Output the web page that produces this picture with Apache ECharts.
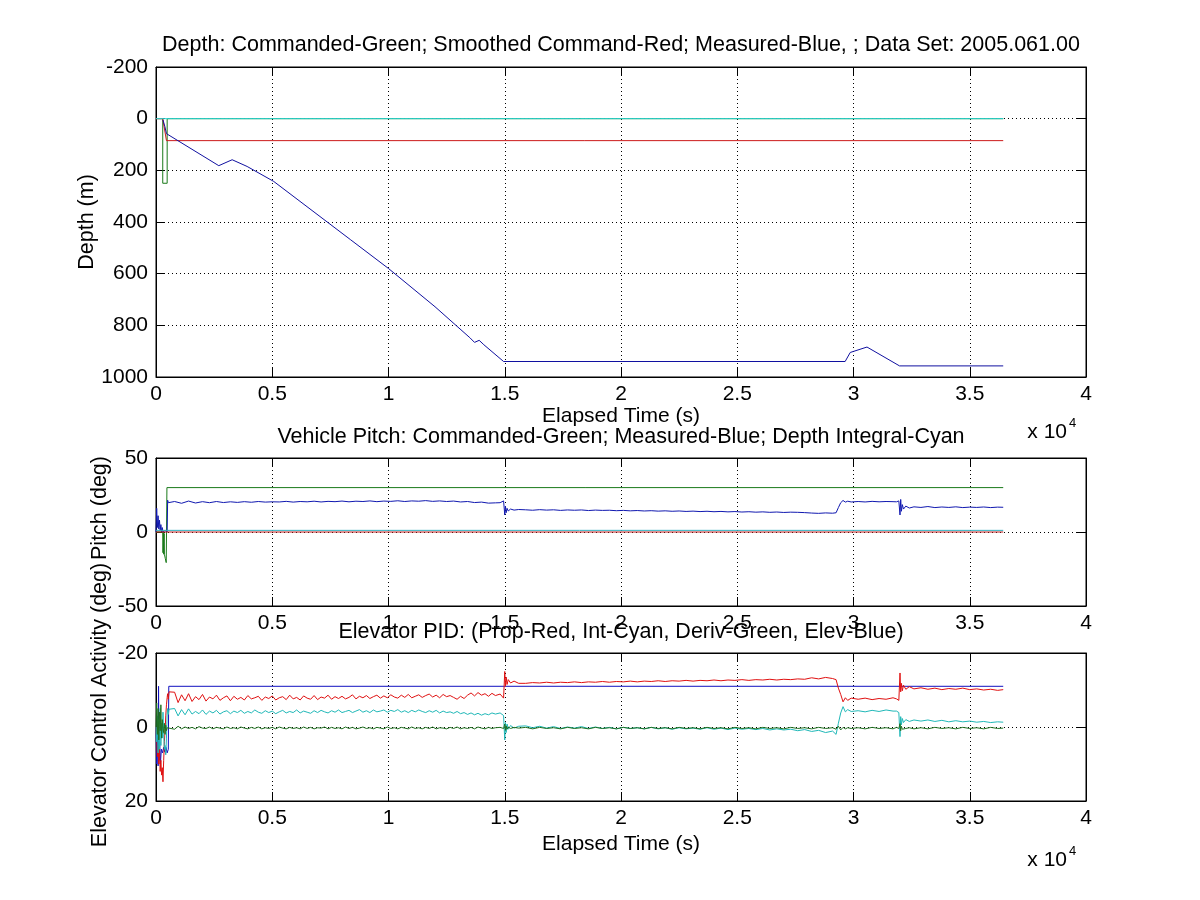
<!DOCTYPE html>
<html lang="en">
<head>
<meta charset="UTF-8" />
<meta name="viewport" content="width=device-width, initial-scale=1.0" />
<title>Depth / Pitch / Elevator PID - 2005.061.00</title>
<style>
  html, body { margin: 0; padding: 0; background: #fff; }
  #main { width: 1200px; height: 900px; }
</style>
</head>
<body>
<div id="main"></div>
<script src="https://cdn.jsdelivr.net/npm/echarts/dist/echarts.min.js"></script>
<script>
// ---- depth panel ----
var depthCmdTime = [0, 290, 290, 480, 480, 36440];
var depthCmd = [0, 0, 250, 250, 0, 0];
var depthSmoothTime = [0, 290, 450, 36440];
var depthSmooth = [0, 0, 85, 85];
var depthMeasTime = [300, 380, 450, 2700, 3275, 3920, 5065, 8360, 10000, 12000, 13500, 13700, 13900, 14100, 14950, 29640, 29860, 30580, 31980, 36440];
var depthMeas = [5, 30, 58, 182, 159, 185, 243, 468, 580, 728, 848, 866, 858, 875, 940, 940, 905, 884, 957, 957];
var depthRefTime = [0, 36440];
var depthRef = [0, 0];

// ---- time base for the pitch trace (s) ----
var tCtl = [
  0, 30, 60, 90, 120, 150, 180, 210, 240, 270, 300, 330, 360, 390, 420, 450, 480, 500, 530, 560,
  800, 1100, 1400, 1700, 2000, 2300, 2600, 2900, 3200, 3500,
  3800, 4100, 4400, 4700, 5000, 5300, 5600, 5900, 6200, 6500,
  6800, 7100, 7400, 7700, 8000, 8300, 8600, 8900, 9200, 9500,
  9800, 10100, 10400, 10700, 11000, 11300, 11600, 11900, 12200, 12500,
  12800, 13100, 13400, 13700, 14000, 14300, 14600,
  14800, 14950, 15000, 15030, 15060, 15100, 15150, 15250, 15400, 15600,
  15900, 16200, 16500, 16800, 17100, 17400, 17700, 18000, 18300, 18600,
  18900, 19200, 19500, 19800, 20100, 20400, 20700, 21000, 21300, 21600,
  21900, 22200, 22500, 22800, 23100, 23400, 23700, 24000, 24300, 24600,
  24900, 25200, 25500, 25800, 26100, 26400, 26700, 27000, 27300, 27600,
  27900, 28200, 28500, 28800, 29100,
  29250, 29350, 29450, 29550, 29650, 29750, 29900,
  30200, 30500, 30800, 31100, 31400, 31700,
  31850, 31950, 32000, 32030, 32060, 32100, 32150, 32250, 32400, 32600,
  32900, 33200, 33500, 33800, 34100, 34400, 34700, 35000, 35300, 35600, 35900, 36200, 36440
];

// ---- time base for the PID traces (s), denser in the first leg ----
var tPid = [
  0, 30, 60, 90, 120, 150, 180, 210, 240, 270, 300, 330, 360, 390, 420, 450, 480, 500, 530, 560,
  800, 950, 1100, 1250, 1400, 1550, 1700, 1850, 2000, 2150,
  2300, 2450, 2600, 2750, 2900, 3050, 3200, 3350, 3500, 3650,
  3800, 3950, 4100, 4250, 4400, 4550, 4700, 4850, 5000, 5150,
  5300, 5450, 5600, 5750, 5900, 6050, 6200, 6350, 6500, 6650,
  6800, 6950, 7100, 7250, 7400, 7550, 7700, 7850, 8000, 8150,
  8300, 8450, 8600, 8750, 8900, 9050, 9200, 9350, 9500, 9650,
  9800, 9950, 10100, 10250, 10400, 10550, 10700, 10850, 11000, 11150,
  11300, 11450, 11600, 11750, 11900, 12050, 12200, 12350, 12500, 12650,
  12800, 12950, 13100, 13250, 13400, 13550, 13700, 13850, 14000, 14150,
  14300, 14450, 14600,
  14800, 14950, 15000, 15030, 15060, 15100, 15150, 15250, 15400, 15600,
  15900, 16200, 16500, 16800, 17100, 17400, 17700, 18000, 18300, 18600,
  18900, 19200, 19500, 19800, 20100, 20400, 20700, 21000, 21300, 21600,
  21900, 22200, 22500, 22800, 23100, 23400, 23700, 24000, 24300, 24600,
  24900, 25200, 25500, 25800, 26100, 26400, 26700, 27000, 27300, 27600,
  27900, 28200, 28500, 28800, 29100,
  29250, 29350, 29450, 29550, 29650, 29750, 29900,
  30200, 30500, 30800, 31100, 31400, 31700,
  31850, 31950, 32000, 32030, 32060, 32100, 32150, 32250, 32400, 32600,
  32900, 33200, 33500, 33800, 34100, 34400, 34700, 35000, 35300, 35600, 35900, 36200, 36440
];

// ---- pitch panel ----
var pitchMeas = [
  0, 16, 3, 11, 2, 8, 1, 5, 0, 3, 0, 1, 0, 1, 0, 1, 0, 21.5, 19.8, 21.0,
  20.6, 19.4, 20.9, 19.6, 20.5, 19.8, 20.6, 19.9, 20.4, 20.0,
  20.5, 20.1, 20.6, 20.2, 20.4, 20.3, 20.7, 20.2, 20.6, 20.4,
  20.8, 20.3, 20.7, 20.5, 20.9, 20.4, 20.8, 20.6, 21.0, 20.5,
  20.9, 20.7, 21.1, 20.6, 21.0, 20.8, 21.2, 20.7, 21.0, 20.6,
  20.9, 20.3, 20.6, 19.9, 20.2, 19.5, 19.7,
  19.8, 21.0, 11.5, 17.5, 13.0, 16.0, 14.2, 15.5, 14.8, 15.2,
  15.0, 14.7, 15.1, 14.8, 15.0, 14.6, 14.9, 14.7, 14.9, 14.5,
  14.8, 14.6, 14.7, 14.4, 14.6, 14.3, 14.5, 14.2, 14.4, 14.1,
  14.3, 14.0, 14.2, 13.9, 14.1, 13.8, 14.0, 13.7, 13.9, 13.6,
  13.8, 13.5, 13.7, 13.4, 13.6, 13.3, 13.5, 13.2, 13.4, 13.3,
  13.1, 12.8, 12.6, 12.9, 12.7,
  13.0, 16.5, 19.8, 21.3, 20.2, 20.8, 20.3,
  20.6, 20.3, 20.7, 20.4, 20.6, 20.5,
  20.4, 21.0, 11.5, 22.0, 14.0, 18.5, 15.5, 17.5, 16.2, 17.0,
  16.6, 17.2, 16.5, 16.9, 16.6, 17.0, 16.5, 16.8, 16.6, 16.9, 16.5, 16.8, 16.7
];
var pitchCmdTime = [0, 290, 300, 320, 330, 350, 360, 400, 440, 465, 470, 36440];
var pitchCmd = [0, 0, -14, 0, -15, -1, -15, -18, -20.7, -19.5, 30, 30];
var pitchIntTime = [0, 36440];
var pitchInt = [1.1, 1.1];
var pitchRefTime = [0, 36440];
var pitchRef = [0, 0];

// ---- elevator PID panel (on tPid) ----
var elevProp = [
  0, 3, 8, 5, 10, 6, 12, 9, 13, 11, 14.8, 9, 4, 1, -3, -6, -8, -9, -7.5, -9.5,
  -9.4, -6.6, -8.7, -7.1, -9.0, -6.9, -8.2, -7.4, -8.8, -7.0,
  -8.1, -7.6, -8.6, -7.2, -7.9, -8.4, -7.1, -8.3, -7.5, -8.0,
  -7.3, -8.5, -7.6, -7.9, -8.3, -7.2, -8.1, -7.7, -8.4, -7.3,
  -7.9, -8.2, -7.4, -8.6, -7.6, -8.0, -7.3, -8.4, -7.8, -7.5,
  -8.5, -7.4, -8.1, -7.8, -8.6, -7.5, -8.2, -7.7, -8.3, -7.6,
  -8.0, -8.7, -7.6, -8.3, -7.9, -8.5, -7.7, -8.2, -8.6, -7.8,
  -8.4, -7.9, -8.7, -8.1, -7.8, -8.6, -8.0, -8.8, -7.9, -8.3,
  -8.7, -8.0, -8.5, -8.9, -8.1, -8.6, -7.9, -8.8, -8.2, -8.5,
  -8.0, -7.5, -8.3, -7.7, -8.6, -9.2, -8.4, -9.3, -8.6, -9.0,
  -8.3, -9.1, -8.5,
  -8.9, -7.8, -15.0, -11.0, -13.5, -11.5, -12.8, -11.9, -12.4, -11.8,
  -11.8, -12.0, -11.9, -12.1, -11.9, -12.1, -12.0, -12.2, -12.0, -12.2,
  -12.1, -12.3, -12.1, -12.3, -12.2, -12.4, -12.2, -12.4, -12.3, -12.5,
  -12.3, -12.5, -12.4, -12.6, -12.4, -12.6, -12.5, -12.7, -12.5, -12.7,
  -12.6, -12.8, -12.6, -12.8, -12.7, -12.9, -12.7, -12.9, -12.8, -13.0,
  -12.9, -13.3, -13.0, -13.4, -13.1,
  -12.8, -10.5, -8.8, -6.8, -7.9, -7.2, -7.8,
  -7.5, -7.8, -7.4, -7.7, -7.5, -7.9,
  -7.6, -7.2, -14.6, -9.5, -11.8, -9.8, -11.3, -10.2, -10.9, -10.3,
  -10.6, -10.2, -10.5, -10.1, -10.4, -10.2, -10.5, -10.1, -10.3, -10.0, -10.2, -9.9, -10.1
];
var elevInt = [
  0, 4, -3, 7, -2, 6, -5, 5, -1, 3, -4, 2, 6, 5, 7.5, 3, -3.5, -5, -3.4, -4.8,
  -5.0, -3.0, -4.7, -3.3, -4.9, -3.5, -4.2, -3.6, -4.6, -3.4,
  -4.3, -3.8, -4.5, -3.5, -4.1, -4.4, -3.6, -4.3, -3.9, -4.5,
  -3.7, -4.2, -3.8, -4.6, -4.0, -3.7, -4.4, -3.9, -4.3, -3.6,
  -4.1, -4.5, -3.8, -4.2, -3.9, -4.6, -3.8, -4.3, -4.0, -3.7,
  -4.4, -3.9, -4.5, -4.1, -3.8, -4.4, -4.0, -4.6, -3.9, -4.2,
  -4.5, -3.9, -4.3, -4.7, -4.0, -4.4, -3.9, -4.6, -4.1, -4.3,
  -4.6, -4.0, -4.5, -4.2, -4.7, -4.0, -4.4, -3.9, -4.5, -4.1,
  -4.6, -4.2, -3.9, -4.4, -4.0, -4.5, -3.8, -4.3, -3.9, -4.1,
  -3.7, -4.2, -3.6, -3.9, -3.4, -3.8, -3.3, -3.7, -3.2, -3.6,
  -3.3, -3.8, -3.5,
  -3.8, -3.1, 3.5, -1.2, 1.5, -0.8, 0.6, -0.4, 0.3, -0.2,
  -0.3, 0.2, -0.2, 0.3, -0.1, 0.4, 0.0, 0.3, -0.1, 0.4,
  0.0, 0.4, 0.1, 0.5, 0.1, 0.4, 0.2, 0.5, 0.1, 0.5,
  0.2, 0.6, 0.2, 0.5, 0.3, 0.6, 0.2, 0.6, 0.3, 0.7,
  0.3, 0.6, 0.4, 0.7, 0.4, 0.8, 0.5, 0.8, 0.6, 1.0,
  0.7, 1.2, 0.9, 1.5, 1.1,
  2.0, -1.0, -3.8, -5.5, -4.1, -4.7, -4.2,
  -4.4, -4.1, -4.5, -4.2, -4.6, -4.3,
  -4.3, -3.9, 2.6, -2.8, -0.6, -2.3, -1.2, -2.0, -1.5, -1.9,
  -1.6, -1.9, -1.5, -1.8, -1.4, -1.7, -1.4, -1.6, -1.3, -1.5, -1.2, -1.4, -1.3
];
var elevDeriv = [
  0, -6.5, 2, -5, 3.5, -4, 1, -6, 3, -2, 0.5, 1.5, -1, 2, -0.5, 1, 0.2, 0.5, 0.1, 0.4,
  0.6, -0.2, 0.5, 0.0, 0.4, 0.1, 0.5, -0.1, 0.3, 0.4,
  0.0, 0.5, 0.1, 0.3, 0.5, 0.0, 0.4, 0.2, 0.5, 0.0,
  0.3, 0.5, 0.1, 0.4, 0.0, 0.5, 0.2, 0.4, 0.1, 0.5,
  0.0, 0.3, 0.5, 0.1, 0.4, 0.2, 0.5, 0.0, 0.4, 0.1,
  0.5, 0.2, 0.3, 0.0, 0.5, 0.1, 0.4, 0.2, 0.5, 0.0,
  0.4, 0.1, 0.5, 0.3, 0.0, 0.4, 0.2, 0.5, 0.1, 0.3,
  0.5, 0.0, 0.4, 0.2, 0.5, 0.1, 0.3, 0.5, 0.0, 0.4,
  0.2, 0.5, 0.1, 0.4, 0.0, 0.5, 0.2, 0.3, 0.5, 0.1,
  0.4, 0.0, 0.5, 0.2, 0.4, 0.1, 0.5, 0.0, 0.3, 0.5,
  0.1, 0.4, 0.2,
  0.1, 0.4, -0.8, 0.9, -0.3, 0.6, 0.0, 0.4, 0.1, 0.3,
  0.1, 0.5, 0.1, 0.4, 0.2, 0.5, 0.1, 0.4, 0.2, 0.5,
  0.1, 0.4, 0.2, 0.5, 0.1, 0.4, 0.2, 0.5, 0.1, 0.4,
  0.2, 0.5, 0.1, 0.4, 0.2, 0.5, 0.1, 0.4, 0.2, 0.5,
  0.1, 0.4, 0.2, 0.5, 0.1, 0.4, 0.2, 0.5, 0.1, 0.4,
  0.2, 0.5, 0.1, 0.4, 0.2,
  0.6, -0.2, 0.8, 0.1, 0.5, 0.2, 0.4,
  0.2, 0.5, 0.1, 0.4, 0.2, 0.5,
  0.1, 0.4, -0.9, 1.0, -0.2, 0.6, 0.1, 0.4, 0.2, 0.5,
  0.2, 0.5, 0.1, 0.4, 0.2, 0.5, 0.1, 0.4, 0.2, 0.5, 0.1, 0.4, 0.3
];
var elevTime = [0, 30, 60, 90, 110, 130, 160, 190, 230, 280, 330, 380, 430, 480, 530, 550, 36440];
var elev = [0, 10, 2, 10.5, -11, 9, 4, 10, 6, 7, 5.5, 6.8, 5.5, 7, 6, -11, -11];

// tick labels (time axis shown in units of 10^4 s)
var timeTicks = [0, 5000, 10000, 15000, 20000, 25000, 30000, 35000, 40000];

var font = "'Liberation Sans', Arial, Helvetica, sans-serif";
var fs = 21;
var fsTitle = 21.5;
var L = 156, W = 930;
var grids = [
  { top: 67, height: 310 },
  { top: 458, height: 148 },
  { top: 653, height: 148 }
];

function pairs(t, v) {
  var n = Math.min(t.length, v.length);
  if (t.length !== v.length) console.warn('length mismatch', t.length, v.length);
  var out = [];
  for (var i = 0; i < n; i++) out.push([t[i], v[i]]);
  return out;
}

function xBottom(gi, name, gap) {
  return {
    type: 'value', gridIndex: gi, position: 'bottom',
    min: timeTicks[0], max: timeTicks[timeTicks.length - 1], interval: timeTicks[1] - timeTicks[0],
    name: name, nameLocation: 'middle', nameGap: gap,
    nameTextStyle: { color: '#000', fontFamily: font, fontSize: fs },
    axisLine: { show: true, onZero: false, lineStyle: { color: '#000', width: 1 } },
    axisTick: { show: true, inside: true, length: 9, lineStyle: { color: '#000' } },
    axisLabel: { margin: 7, color: '#000', fontFamily: font, fontSize: fs,
      formatter: function (v) { return String(v / 10000); } },
    splitLine: { show: true, lineStyle: { color: '#000', width: 1, type: [1, 3] } }
  };
}
function xTop(gi) {
  return {
    type: 'value', gridIndex: gi, position: 'top',
    min: timeTicks[0], max: timeTicks[timeTicks.length - 1], interval: timeTicks[1] - timeTicks[0],
    axisLine: { show: true, onZero: false, lineStyle: { color: '#000' } },
    axisTick: { show: true, inside: true, length: 9, lineStyle: { color: '#000' } },
    axisLabel: { show: false }, splitLine: { show: false }
  };
}
function yLeft(gi, min, max, step, inverse) {
  return {
    type: 'value', gridIndex: gi, position: 'left', min: min, max: max, interval: step, inverse: inverse,
    axisLine: { show: true, onZero: false, lineStyle: { color: '#000' } },
    axisTick: { show: true, inside: true, length: 9, lineStyle: { color: '#000' } },
    axisLabel: { margin: 8, color: '#000', fontFamily: font, fontSize: fs,
      formatter: function (v) { return String(v); } },
    splitLine: { show: true, lineStyle: { color: '#000', width: 1, type: [1, 3] } }
  };
}
function yRight(gi, min, max, step, inverse) {
  return {
    type: 'value', gridIndex: gi, position: 'right', min: min, max: max, interval: step, inverse: inverse,
    axisLine: { show: true, onZero: false, lineStyle: { color: '#000' } },
    axisTick: { show: true, inside: true, length: 9, lineStyle: { color: '#000' } },
    axisLabel: { show: false }, splitLine: { show: false }
  };
}
function line(gi, data, color) {
  return {
    type: 'line', xAxisIndex: gi, yAxisIndex: gi, data: data, showSymbol: false,
    symbol: 'none', lineStyle: { color: color, width: 1 }, itemStyle: { color: color },
    silent: true, z: 3
  };
}
function label(text, x, y, align, size, rotate) {
  return {
    type: 'text', silent: true, x: x, y: y, rotation: rotate ? Math.PI / 2 : 0,
    style: { text: text, x: 0, y: 0, textAlign: align, textVerticalAlign: 'middle',
      font: (size || fs) + 'px ' + font, fill: '#000' }
  };
}

var myChart = echarts.init(document.getElementById('main'));
var option = {
  animation: false,
  backgroundColor: '#fff',
  grid: grids.map(function (g) {
    return { left: L, width: W, top: g.top, height: g.height, show: true,
      borderColor: '#000', borderWidth: 1, backgroundColor: '#fff', containLabel: false };
  }),
  xAxis: [
    xBottom(0, 'Elapsed Time (s)', 29), xBottom(1, '', 30), xBottom(2, 'Elapsed Time (s)', 33),
    xTop(0), xTop(1), xTop(2)
  ],
  yAxis: [
    yLeft(0, -200, 1000, 200, true),
    yLeft(1, -50, 50, 50, false),
    yLeft(2, -20, 20, 20, true),
    yRight(0, -200, 1000, 200, true), yRight(1, -50, 50, 50, false), yRight(2, -20, 20, 20, true)
  ],
  series: [
    line(0, pairs(depthCmdTime, depthCmd), '#1a7a1a'),
    line(0, pairs(depthSmoothTime, depthSmooth), '#cc1a1a'),
    line(0, pairs(depthMeasTime, depthMeas), '#1010a0'),
    line(0, pairs(depthRefTime, depthRef), '#2ad6d6'),

    line(1, pairs(pitchCmdTime, pitchCmd), '#1a7a1a'),
    line(1, pairs(tCtl, pitchMeas), '#1018b0'),
    line(1, pairs(pitchIntTime, pitchInt), '#30b0c0'),
    line(1, pairs(pitchRefTime, pitchRef), '#c02020'),

    line(2, pairs(elevTime, elev), '#1010c0'),
    line(2, pairs(tPid, elevProp), '#e01010'),
    line(2, pairs(tPid, elevInt), '#20b8b8'),
    line(2, pairs(tPid, elevDeriv), '#207020')
  ],
  graphic: [
    label('Depth: Commanded-Green; Smoothed Command-Red; Measured-Blue, ; Data Set: 2005.061.00', 621, 45, 'center', fsTitle),
    label('Vehicle Pitch: Commanded-Green; Measured-Blue; Depth Integral-Cyan', 621, 437, 'center', fsTitle),
    label('Elevator PID: (Prop-Red, Int-Cyan, Deriv-Green, Elev-Blue)', 621, 632, 'center', fsTitle),
    label('Depth (m)', 87, 222, 'center', fsTitle, true),
    label('Pitch (deg)', 100, 508, 'center', fsTitle, true),
    label('Elevator Control Activity (deg)', 100, 705, 'center', fsTitle, true),
    label('x 10', 1067, 432, 'right'),
    label('4', 1069, 423, 'left', 13),
    label('x 10', 1067, 860, 'right'),
    label('4', 1069, 851, 'left', 13)
  ]
};
myChart.setOption(option);
</script>
</body>
</html>
